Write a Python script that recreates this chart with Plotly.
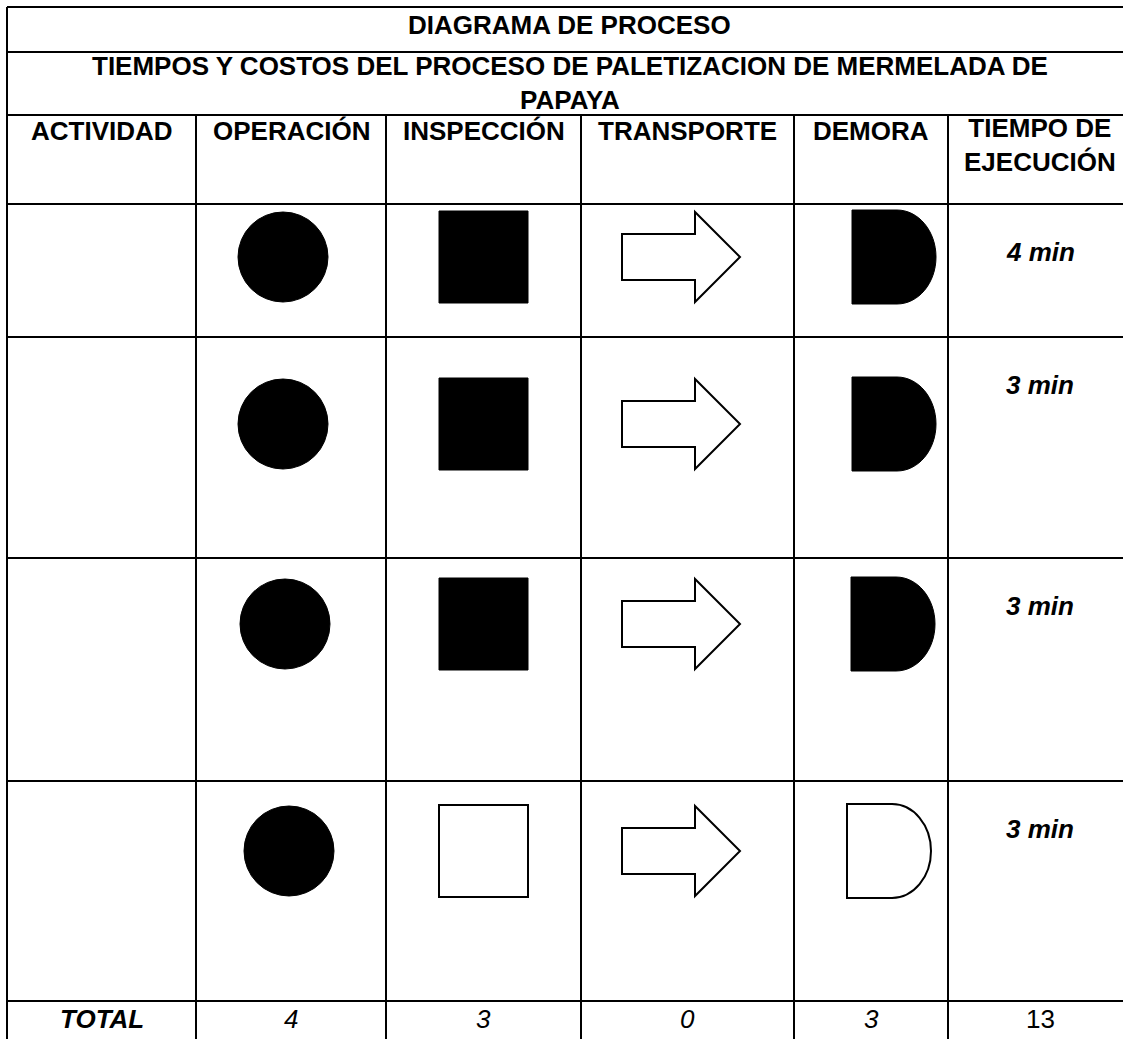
import plotly.graph_objects as go

# ---------------- data ----------------
title = "DIAGRAMA DE PROCESO"
subtitle_lines = ["TIEMPOS Y COSTOS DEL PROCESO DE PALETIZACION DE MERMELADA DE", "PAPAYA"]
header_lines = [["ACTIVIDAD"], ["OPERACIÓN"], ["INSPECCIÓN"], ["TRANSPORTE"], ["DEMORA"], ["TIEMPO DE", "EJECUCIÓN"]]
activities = ["", "", "", ""]
operation_filled = [True, True, True, True]
inspection_filled = [True, True, True, False]
transport_filled = [False, False, False, False]
demora_filled = [True, True, True, False]
times_min = [4, 3, 3, 3]
total_label = "TOTAL"
totals = [4, 3, 0, 3, 13]

# ---------------- layout geometry ----------------
W, H = 1123, 1039
col_x = [7, 196, 386, 581, 794, 948, 1132]
row_y = [7, 52, 115, 204, 337, 558, 781, 1001, 1046]
body_rows = row_y[3:8]
shape_cy = [257, 424, 624, 851]
circle_cx = [283, 283, 285, 289]
demora_right = [936, 936, 935, 931]

FONT = "Liberation Sans, Arial, sans-serif"
FS = 26
LW = 2

shapes = []
annotations = []

def line(x0, y0, x1, y1):
    shapes.append(dict(type="line", xref="x", yref="y", x0=x0, y0=y0, x1=x1, y1=y1,
                       line=dict(color="black", width=LW)))

# horizontal lines
for y in row_y:
    line(col_x[0], y, col_x[-1], y)
# outer verticals
line(col_x[0], row_y[0], col_x[0], row_y[-1])
line(col_x[-1], row_y[0], col_x[-1], row_y[-1])
# inner verticals
for x in col_x[1:-1]:
    line(x, row_y[2], x, row_y[-1])

def text(x, y, s, bold=False, italic=False, anchor="middle"):
    t = s
    if italic:
        t = "<i>" + t + "</i>"
    if bold:
        t = "<b>" + t + "</b>"
    annotations.append(dict(x=x, y=y, xref="x", yref="y", text=t, showarrow=False,
                            xanchor="center", yanchor=anchor, align="center",
                            font=dict(family=FONT, size=FS, color="black")))

mid_all = (col_x[0] + col_x[-1]) / 2
text(mid_all, 25, title, bold=True)
text(mid_all, 83, "<br>".join(subtitle_lines), bold=True)

col_c = [(col_x[i] + col_x[i + 1]) / 2 for i in range(6)]
for i, lines in enumerate(header_lines):
    if len(lines) == 1:
        text(col_c[i], 131, lines[0], bold=True)
    else:
        text(col_c[i], 145, "<br>".join(lines), bold=True)

def fill_style(filled):
    if filled:
        return dict(fillcolor="black", line=dict(color="black", width=1))
    return dict(fillcolor="white", line=dict(color="black", width=2))

for r in range(4):
    cy = shape_cy[r]
    # operation circle
    cx = circle_cx[r]
    shapes.append(dict(type="circle", xref="x", yref="y", x0=cx - 45, x1=cx + 45,
                       y0=cy - 45, y1=cy + 45, **fill_style(operation_filled[r])))
    # inspection square
    shapes.append(dict(type="rect", xref="x", yref="y", x0=439, x1=528,
                       y0=cy - 46, y1=cy + 46, **fill_style(inspection_filled[r])))
    # transport arrow
    xl, xr = 622, 740
    yt, yb = cy - 45, cy + 45
    bh = 23
    xh = xl + 73
    p = (f"M {xl},{cy - bh} L {xh},{cy - bh} L {xh},{yt} L {xr},{cy} L {xh},{yb} "
         f"L {xh},{cy + bh} L {xl},{cy + bh} Z")
    shapes.append(dict(type="path", xref="x", yref="y", path=p, **fill_style(transport_filled[r])))
    # demora D
    x1 = demora_right[r]
    x0 = x1 - 84
    rx, ry = 39, 47
    xm = x1 - rx
    y0, y1 = cy - ry, cy + ry
    k = 0.5523
    p = (f"M {x0},{y0} L {xm},{y0} C {xm + k * rx},{y0} {x1},{cy - k * ry} {x1},{cy} "
         f"C {x1},{cy + k * ry} {xm + k * rx},{y1} {xm},{y1} L {x0},{y1} Z")
    shapes.append(dict(type="path", xref="x", yref="y", path=p, **fill_style(demora_filled[r])))
    # activity / time text
    if activities[r]:
        text(col_c[0], body_rows[r] + 48, activities[r])
    text(col_c[5], body_rows[r] + 48, f"{times_min[r]} min", bold=True, italic=True)

# totals row
ty = 1019
text(col_c[0], ty, total_label, bold=True, italic=True)
for i, v in enumerate(totals):
    text(col_c[i + 1], ty, str(v), italic=(i < 4))

fig = go.Figure()
fig.add_trace(go.Scatter(x=[0, W], y=[0, H], mode="markers", marker=dict(opacity=0),
                         hoverinfo="skip", showlegend=False))
fig.update_layout(
    width=W, height=H, margin=dict(l=0, r=0, t=0, b=0),
    paper_bgcolor="white", plot_bgcolor="white",
    xaxis=dict(range=[0, W], visible=False, fixedrange=True),
    yaxis=dict(range=[H, 0], visible=False, fixedrange=True),
    shapes=shapes, annotations=annotations, showlegend=False,
)
fig.write_html("out.html", post_script="document.body.style.margin='0';",
               config={"displayModeBar": False})
